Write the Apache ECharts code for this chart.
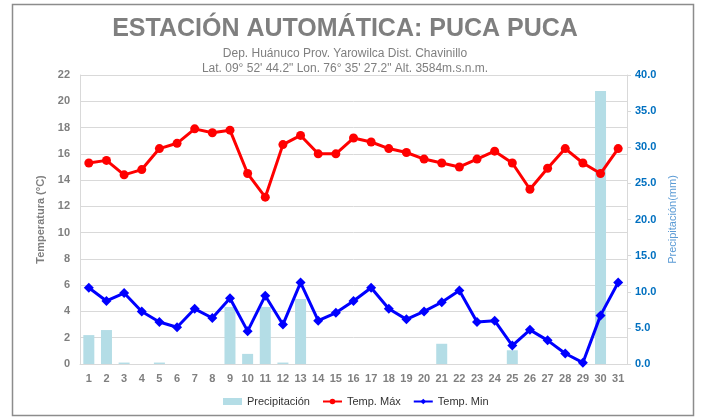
<!DOCTYPE html>
<html>
<head>
<meta charset="utf-8">
<script src="https://cdn.jsdelivr.net/npm/echarts@6/dist/echarts.min.js"></script>
<style>
  html, body { margin: 0; padding: 0; background: #fff; }
  #chart { width: 702px; height: 418px; }
</style>
</head>
<body>
<div id="chart"></div>
<script>
const days = ["1","2","3","4","5","6","7","8","9","10","11","12","13","14","15","16","17","18","19","20","21","22","23","24","25","26","27","28","29","30","31"];
const precip = [4.0, 4.7, 0.2, 0, 0.2, 0, 0, 0, 7.9, 1.4, 7.9, 0.2, 9.0, 0, 0, 0, 0, 0, 0, 0, 2.8, 0, 0, 0, 1.9, 0, 0, 0, 0, 37.8, 0];
const tempMax = [15.3, 15.5, 14.4, 14.8, 16.4, 16.8, 17.9, 17.6, 17.8, 14.5, 12.7, 16.7, 17.4, 16.0, 16.0, 17.2, 16.9, 16.4, 16.1, 15.6, 15.3, 15.0, 15.6, 16.2, 15.3, 13.3, 14.9, 16.4, 15.3, 14.5, 16.4];
const tempMin = [5.8, 4.8, 5.4, 4.0, 3.2, 2.8, 4.2, 3.5, 5.0, 2.5, 5.2, 3.0, 6.2, 3.3, 3.9, 4.8, 5.8, 4.2, 3.4, 4.0, 4.7, 5.6, 3.2, 3.3, 1.4, 2.6, 1.8, 0.8, 0.1, 3.7, 6.2];

const FONT = "Liberation Sans, Arial, sans-serif";
const GRAY = "#7f7f7f";

const chart = echarts.init(document.getElementById("chart"), null, { renderer: "canvas" });
chart.setOption({
  animation: false,
  textStyle: { fontFamily: FONT },
  title: [
    { text: "ESTACIÓN AUTOMÁTICA: PUCA PUCA", left: 340, top: 12, textAlign: "center",
      textStyle: { fontSize: 25, fontWeight: "bold", color: GRAY } },
    { text: "Dep. Huánuco Prov. Yarowilca Dist. Chavinillo\nLat. 09° 52' 44.2\" Lon. 76° 35' 27.2\" Alt. 3584m.s.n.m.", left: 340, top: 41, textAlign: "center",
      textStyle: { fontSize: 12, fontWeight: "normal", color: GRAY, lineHeight: 15 } }
  ],
  graphic: [
    { type: "rect", shape: { x: 12.5, y: 4.5, width: 681, height: 411 }, style: { fill: "none", stroke: "#8c8c8c", lineWidth: 1.5 }, silent: true }
  ],
  legend: {
    bottom: 6, left: 218, itemGap: 12, itemWidth: 19, itemHeight: 7,
    textStyle: { fontSize: 11, color: "#333" },
    data: [
      { name: "Precipitación", icon: "rect" },
      { name: "Temp. Máx" },
      { name: "Temp. Min" }
    ]
  },
  grid: { left: 80, right: 75, top: 75, bottom: 54 },
  xAxis: {
    type: "category", data: days,
    axisLine: { lineStyle: { color: "#d9d9d9" } },
    axisTick: { show: false },
    axisLabel: { color: GRAY, fontWeight: "bold", fontSize: 11, margin: 9 }
  },
  yAxis: [
    { type: "value", min: 0, max: 22, interval: 2,
      name: "Temperatura (°C)", nameLocation: "middle", nameGap: 25, nameRotate: 90,
      nameTextStyle: { color: GRAY, fontSize: 11, fontWeight: "bold" },
      axisLine: { show: true, lineStyle: { color: "#d9d9d9" } },
      axisLabel: { color: GRAY, fontWeight: "bold", fontSize: 11, margin: 10 },
      splitLine: { lineStyle: { color: "#d9d9d9" } } },
    { type: "value", min: 0, max: 40, interval: 5,
      name: "Precipitación(mm)", nameLocation: "middle", nameGap: 40, nameRotate: 90,
      nameTextStyle: { color: "#5b9bd5", fontSize: 11 },
      axisLine: { show: true, lineStyle: { color: "#d9d9d9" } },
      axisTick: { show: true, length: 4, lineStyle: { color: "#d9d9d9" } },
      axisLabel: { color: "#0070c0", fontWeight: "bold", fontSize: 11, margin: 8, formatter: v => v.toFixed(1) },
      splitLine: { show: false } }
  ],
  series: [
    { name: "Precipitación", type: "bar", yAxisIndex: 1, data: precip, barWidth: 11,
      itemStyle: { color: "#b4dde6" } },
    { name: "Temp. Máx", type: "line", data: tempMax, symbol: "circle", symbolSize: 9,
      lineStyle: { color: "#ff0000", width: 3 }, itemStyle: { color: "#ff0000" } },
    { name: "Temp. Min", type: "line", data: tempMin, symbol: "diamond", symbolSize: 10,
      lineStyle: { color: "#0000ff", width: 3 }, itemStyle: { color: "#0000ff" } }
  ]
});
</script>
</body>
</html>
